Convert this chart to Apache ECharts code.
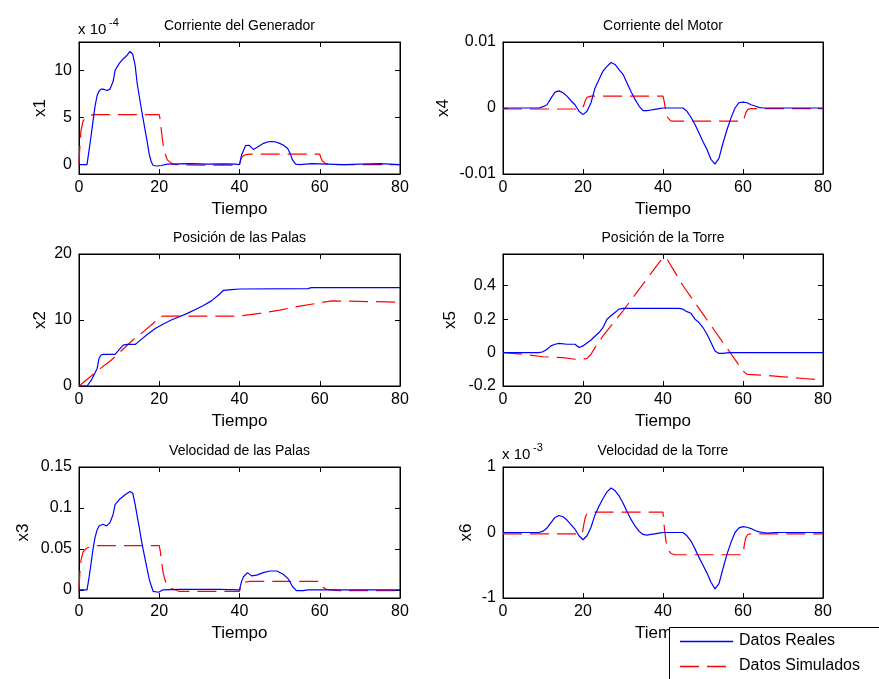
<!DOCTYPE html>
<html>
<head>
<meta charset="utf-8">
<script src="https://cdn.jsdelivr.net/npm/echarts@6/dist/echarts.min.js"></script>
<style>
html,body{margin:0;padding:0;background:#fff;}
#chart{width:879px;height:679px;}
</style>
</head>
<body>
<div id="chart"></div>
<script>
// ---------- DATA ----------
const legendNames = ['Datos Reales', 'Datos Simulados'];
const plotTitles = ['Corriente del Generador', 'Corriente del Motor', 'Posición de las Palas', 'Posición de la Torre', 'Velocidad de las Palas', 'Velocidad de la Torre'];
const yNames = ['x1', 'x4', 'x2', 'x5', 'x3', 'x6'];
const xName = 'Tiempo';
const xTicks = [0, 20, 40, 60, 80];

// x1 (x 10^-4)
const t1r = [0, 1, 2, 2.5, 3, 3.5, 4, 4.5, 5, 5.5, 6, 7, 7.7, 8.5, 9, 10, 11, 12, 12.7, 13.4, 14, 14.5, 15, 15.5, 16, 16.5, 17, 17.5, 18, 18.5, 19.5, 20.5, 22, 25, 28, 32, 36, 39, 40, 40.5, 41, 41.5, 42.4, 43, 43.5, 44.3, 45, 46, 47, 48, 49, 50, 51, 52, 52.6, 53.2, 54, 55, 58, 62, 66, 70, 75, 80];
const x1r = [0, 0, 0, 1.5, 3.0, 4.6, 6.2, 7.3, 7.8, 8.0, 8.0, 7.85, 8.0, 8.8, 10.0, 10.7, 11.2, 11.6, 12.0, 11.7, 10.5, 8.6, 7.3, 6.0, 4.8, 3.6, 2.4, 1.1, 0.3, -0.1, -0.15, -0.1, 0.05, 0.08, 0.1, 0.05, 0.08, 0.05, 0.0, 1.0, 1.5, 2.0, 2.05, 1.8, 1.6, 1.8, 2.0, 2.25, 2.4, 2.45, 2.4, 2.25, 2.05, 1.7, 1.2, 0.5, 0.05, 0.0, 0.1, 0.05, 0.0, 0.05, 0.1, 0.0];
const t1s = [0, 0.2, 0.5, 1, 1.5, 2, 3, 4, 20, 20.3, 20.6, 21, 21.5, 22, 23, 24, 30, 40, 40.3, 40.7, 41.5, 42.5, 60, 60.3, 60.7, 61.5, 62.5, 80];
const x1s = [0, 1.8, 3.6, 4.6, 4.9, 5.1, 5.25, 5.3, 5.3, 4.6, 3.3, 2.0, 1.1, 0.5, 0.15, 0.0, -0.05, -0.05, 0.5, 0.85, 1.05, 1.1, 1.1, 0.7, 0.35, 0.1, 0.0, 0.0];

// x4
const t4r = [0, 9, 10, 11, 12, 13, 14, 15, 16, 17, 18, 19, 20, 21, 22, 23, 24, 25, 26, 27, 28, 29, 30, 31, 32, 33, 34, 35, 36, 37, 38, 39, 40, 45, 46, 47, 48, 49, 50, 51, 52, 53, 54, 55, 56, 57, 58, 59, 60, 61, 62, 63, 64, 65, 80];
const x4r = [0, 0, 0.0002, 0.0005, 0.0015, 0.0024, 0.0026, 0.0023, 0.0018, 0.0011, 0.0005, -0.0005, -0.001, -0.0005, 0.0008, 0.003, 0.0043, 0.0056, 0.0063, 0.0069, 0.0066, 0.0058, 0.0051, 0.0038, 0.0025, 0.0013, 0.0003, -0.0004, -0.0004, -0.0003, -0.0002, -0.0001, 0, 0, -0.0005, -0.0014, -0.0025, -0.0038, -0.0051, -0.0063, -0.0078, -0.0085, -0.0076, -0.0053, -0.0033, -0.0015, 0, 0.0008, 0.0009, 0.0008, 0.0005, 0.0003, 0.0001, 0, 0];
const t4s = [0, 19.8, 20.2, 20.6, 21, 21.5, 22, 40, 40.3, 40.7, 41.2, 42, 60, 60.3, 60.7, 61.2, 62, 80];
const x4s = [-0.00015, -0.00015, 0.0004, 0.0012, 0.0016, 0.0018, 0.0018, 0.0018, 0.001, -0.0005, -0.0015, -0.002, -0.002, -0.0015, -0.0007, -0.0002, -0.0001, -0.0001];

// x2
const t2r = [0, 2, 3, 4, 4.5, 5, 5.5, 6, 9, 10, 11, 12, 14, 15, 17, 19, 21, 23, 25, 27, 29, 31, 33, 35, 36, 38, 40, 57, 58, 80];
const x2r = [0, 0, 0.8, 2.0, 2.6, 4.2, 4.7, 4.8, 4.8, 5.5, 6.2, 6.3, 6.3, 6.8, 7.8, 8.7, 9.4, 10.0, 10.5, 11.0, 11.6, 12.2, 12.9, 13.9, 14.5, 14.6, 14.7, 14.75, 14.9, 14.9];
const t2s = [0, 5, 8, 13.5, 16, 18.5, 20, 21, 40, 45, 50, 55, 60, 63, 80];
const x2s = [0, 2.5, 3.9, 7.0, 8.2, 9.5, 10.4, 10.6, 10.6, 11.0, 11.5, 12.1, 12.6, 12.9, 12.7];

// x5
const t5r = [0, 9, 10, 11, 12, 13, 14, 16, 18, 19, 20, 22, 24, 25, 26, 27, 28, 29, 30, 44, 45, 46, 47, 48, 49, 50, 51, 52, 53, 54, 55, 56, 57, 80];
const x5r = [0, 0, 0.005, 0.02, 0.04, 0.05, 0.055, 0.05, 0.05, 0.03, 0.04, 0.075, 0.12, 0.15, 0.2, 0.22, 0.24, 0.26, 0.265, 0.265, 0.26, 0.245, 0.235, 0.2, 0.18, 0.15, 0.11, 0.06, 0.01, -0.005, -0.005, -0.002, 0, 0];
const t5s = [0, 5, 10, 15, 18, 20, 21, 22, 23, 25, 30, 35, 40, 41, 45, 50, 55, 56.8, 60, 61, 65, 70, 75, 80];
const x5s = [0, -0.01, -0.025, -0.03, -0.04, -0.04, -0.035, -0.01, 0.03, 0.1, 0.25, 0.41, 0.57, 0.56, 0.4, 0.23, 0.06, 0, -0.11, -0.13, -0.135, -0.145, -0.155, -0.165];

// x3
const t3r = [0, 2, 2.5, 3, 3.5, 4, 4.5, 5, 6, 6.9, 7.7, 8.5, 9, 10.2, 11.5, 12.7, 13.4, 14, 14.5, 15, 15.5, 16, 16.5, 17, 17.5, 18, 18.5, 19.8, 21, 25, 30, 35, 40, 40.5, 41, 42, 43, 44.3, 45.9, 47.6, 49.3, 50.9, 52.2, 53.2, 54.2, 55.9, 57, 65, 80];
const x3r = [0, 0, 0.015, 0.032, 0.05, 0.064, 0.073, 0.078, 0.08, 0.078, 0.082, 0.092, 0.104, 0.111, 0.116, 0.12, 0.118, 0.104, 0.09, 0.077, 0.062, 0.049, 0.037, 0.025, 0.013, 0.005, -0.002, -0.003, 0, 0.0005, 0.0005, 0.0005, 0, 0.01, 0.016, 0.021, 0.017, 0.018, 0.021, 0.023, 0.023, 0.019, 0.013, 0.004, -0.001, -0.001, 0, 0, 0];
const t3s = [0, 0.2, 0.5, 1, 1.5, 2, 3, 4, 20, 20.3, 20.6, 21, 21.5, 22, 23, 24, 25, 40, 40.3, 40.7, 41.5, 42.5, 60, 60.3, 60.7, 61.5, 62.5, 65, 80];
const x3s = [0, 0.02, 0.036, 0.046, 0.049, 0.051, 0.053, 0.054, 0.054, 0.046, 0.033, 0.02, 0.011, 0.005, 0.0015, 0, -0.002, -0.002, 0.004, 0.008, 0.0095, 0.0102, 0.0102, 0.007, 0.0035, 0.001, 0, -0.001, -0.001];

// x6 (x 10^-3)
const t6r = [0, 9, 10, 11, 12, 13, 14, 15, 16, 17, 18, 19, 20, 21, 22, 23, 24, 25, 26, 27, 28, 29, 30, 31, 32, 33, 34, 35, 36, 37, 38, 39, 40, 45, 46, 47, 48, 49, 50, 51, 52, 53, 54, 55, 56, 57, 58, 59, 60, 61, 62, 63, 64, 65, 66, 68, 80];
const x6r = [0, 0, 0.02, 0.07, 0.15, 0.23, 0.26, 0.24, 0.19, 0.12, 0.05, -0.05, -0.11, -0.05, 0.08, 0.27, 0.4, 0.52, 0.62, 0.68, 0.64, 0.56, 0.45, 0.32, 0.2, 0.1, 0.02, -0.03, -0.04, -0.03, -0.02, -0.01, 0, 0, -0.05, -0.13, -0.25, -0.38, -0.5, -0.62, -0.76, -0.86, -0.78, -0.55, -0.33, -0.15, 0, 0.07, 0.09, 0.08, 0.06, 0.03, 0.01, 0, -0.01, 0, 0];
const t6s = [0, 19.8, 20.2, 20.6, 21, 21.5, 22, 40, 40.3, 40.7, 41.2, 42, 43, 60, 60.3, 60.7, 61.2, 62, 80];
const x6s = [-0.02, -0.02, 0.12, 0.24, 0.29, 0.31, 0.31, 0.31, 0.1, -0.12, -0.26, -0.32, -0.34, -0.34, -0.2, -0.08, -0.03, -0.02, -0.02];

// y axis ranges and tick labels per panel (panel order: x1, x4, x2, x5, x3, x6)
const yMins = [-1, -0.01, 0, -0.2, -0.01, -1];
const yMaxs = [13, 0.01, 20, 0.59, 0.15, 1];
const yTickLabels = [[0, 5, 10], [-0.01, 0, 0.01], [0, 10, 20], [-0.2, 0, 0.2, 0.4], [0, 0.05, 0.1, 0.15], [-1, 0, 1]];
const exponents = ['-4', null, null, null, null, '-3'];

// ---------- LAYOUT ----------
const grids = [
  {left: 79, top: 42, width: 321, height: 132},
  {left: 503, top: 42, width: 320, height: 132},
  {left: 79, top: 254, width: 321, height: 132},
  {left: 503, top: 254, width: 320, height: 132},
  {left: 79, top: 467, width: 321, height: 131},
  {left: 503, top: 467, width: 320, height: 131}
];
const yNameGaps = [30, 51, 30, 44, 47, 28];

const real = [[t1r, x1r], [t4r, x4r], [t2r, x2r], [t5r, x5r], [t3r, x3r], [t6r, x6r]];
const sim = [[t1s, x1s], [t4s, x4s], [t2s, x2s], [t5s, x5s], [t3s, x3s], [t6s, x6s]];
const pairs = (t, v) => t.map((x, i) => [x, v[i]]);

const FONT = 'Liberation Sans, Arial, Helvetica, sans-serif';
const BLUE = '#0000ff', RED = '#ff0000';
const DASH = [19, 8];

const xAxis = [], yAxis = [], series = [], graphic = [];
grids.forEach((g, i) => {
  const tickStyle = {show: true, inside: true, length: 5, lineStyle: {color: '#000', width: 1}};
  const axLine = {show: true, onZero: false, lineStyle: {color: '#000', width: 1}};
  xAxis.push({
    type: 'value', gridIndex: i, position: 'bottom', min: 0, max: 80, interval: 20,
    name: xName, nameLocation: 'middle', nameGap: 27,
    nameTextStyle: {fontFamily: FONT, fontSize: 17, color: '#000'},
    axisLine: axLine, splitLine: {show: false},
    axisTick: tickStyle,
    axisLabel: {fontFamily: FONT, fontSize: 16, color: '#000', margin: 6, customValues: xTicks},
  });
  xAxis.push({
    type: 'value', gridIndex: i, position: 'top', min: 0, max: 80, interval: 20,
    axisLine: axLine, splitLine: {show: false},
    axisTick: tickStyle, axisLabel: {show: false}
  });
  yAxis.push({
    type: 'value', gridIndex: i, position: 'left', min: yMins[i], max: yMaxs[i],
    name: yNames[i], nameLocation: 'middle', nameGap: yNameGaps[i],
    nameTextStyle: {fontFamily: FONT, fontSize: 17, color: '#000'},
    axisLine: axLine, splitLine: {show: false},
    axisTick: Object.assign({customValues: yTickLabels[i]}, tickStyle),
    axisLabel: {fontFamily: FONT, fontSize: 16, color: '#000', margin: 7, customValues: yTickLabels[i]}
  });
  yAxis.push({
    type: 'value', gridIndex: i, position: 'right', min: yMins[i], max: yMaxs[i],
    axisLine: axLine, splitLine: {show: false},
    axisTick: Object.assign({customValues: yTickLabels[i]}, tickStyle),
    axisLabel: {show: false, customValues: yTickLabels[i]}
  });
  series.push({
    name: legendNames[0], type: 'line', xAxisIndex: 2 * i, yAxisIndex: 2 * i,
    data: pairs(real[i][0], real[i][1]), showSymbol: false, symbol: 'none',
    lineStyle: {color: BLUE, width: 1.2}, itemStyle: {color: BLUE}, z: 3, clip: true
  });
  series.push({
    name: legendNames[1], type: 'line', xAxisIndex: 2 * i, yAxisIndex: 2 * i,
    data: pairs(sim[i][0], sim[i][1]), showSymbol: false, symbol: 'none',
    lineStyle: {color: RED, width: 1.2, type: DASH}, itemStyle: {color: RED}, z: 2, clip: true
  });
  // title
  graphic.push({
    type: 'text', x: g.left + g.width / 2, y: g.top - 16, z: 5,
    style: {text: plotTitles[i], font: '14px ' + FONT, fill: '#000',
      textAlign: 'center', textVerticalAlign: 'middle', align: 'center', verticalAlign: 'middle'}
  });
  if (exponents[i]) {
    graphic.push({
      type: 'text', x: g.left - 1, y: g.top - 12, z: 5,
      style: {text: 'x 10', font: '15px ' + FONT, fill: '#000',
        textAlign: 'left', textVerticalAlign: 'middle', align: 'left', verticalAlign: 'middle'}
    });
    graphic.push({
      type: 'text', x: g.left + 30, y: g.top - 19, z: 5,
      style: {text: exponents[i], font: '11px ' + FONT, fill: '#000',
        textAlign: 'left', textVerticalAlign: 'middle', align: 'left', verticalAlign: 'middle'}
    });
  }
});

// legend (box, line samples and labels)
const legendRows = [641, 666];
const legendColors = [BLUE, RED];
const legendDash = [null, DASH];
graphic.push({
  type: 'rect', z: 100,
  shape: {x: 669.5, y: 627.5, width: 260, height: 80},
  style: {fill: '#fff', stroke: '#000', lineWidth: 1}
});
legendNames.forEach((nm, k) => {
  graphic.push({
    type: 'polyline', z: 101,
    shape: {points: [[680, legendRows[k] + 0.5], [733, legendRows[k] + 0.5]]},
    style: {stroke: legendColors[k], lineWidth: 1.5, fill: null, lineDash: legendDash[k]}
  });
  graphic.push({
    type: 'text', z: 101, x: 739, y: legendRows[k],
    style: {text: nm, font: '16px ' + FONT, fill: '#000',
      textAlign: 'left', textVerticalAlign: 'middle', align: 'left', verticalAlign: 'middle'}
  });
});

const option = {
  animation: false,
  backgroundColor: '#fff',
  grid: grids.map(g => Object.assign({show: true, borderColor: '#000', borderWidth: 1, backgroundColor: 'transparent', containLabel: false}, g)),
  xAxis: xAxis,
  yAxis: yAxis,
  series: series,
  graphic: graphic
};

const chart = echarts.init(document.getElementById('chart'), null, {renderer: 'canvas'});
chart.setOption(option);
</script>
</body>
</html>
